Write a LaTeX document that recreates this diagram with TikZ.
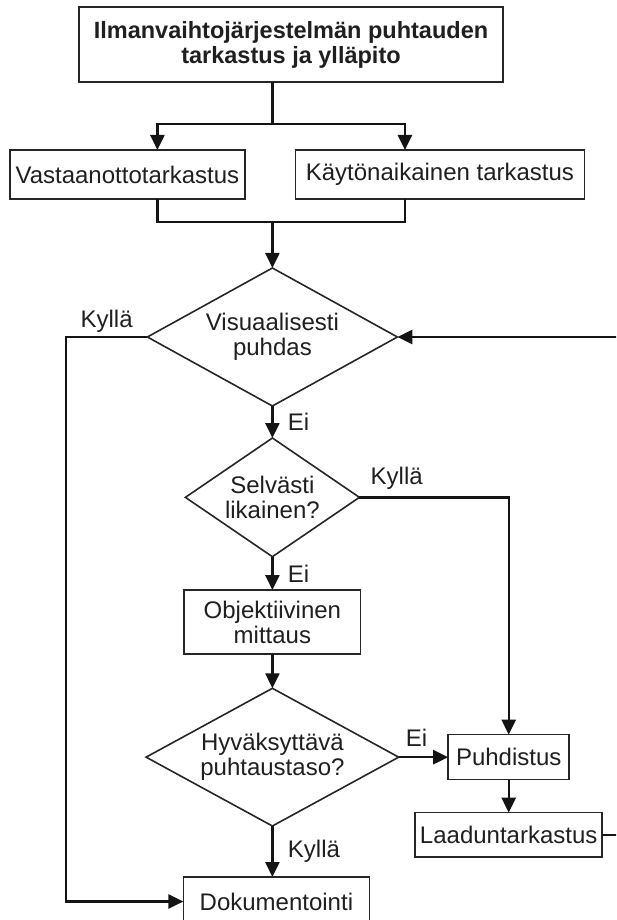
\documentclass[tikz,border=0pt]{standalone}
\usepackage{fontspec}
\setmainfont{Liberation Sans}
\usetikzlibrary{shapes.geometric,positioning,arrows.meta}
\newcommand{\chartfont}{\fontsize{24}{25}\selectfont}

\begin{document}
\begin{tikzpicture}[x=1pt,y=-1pt,font=\chartfont,text=black!88]
\tikzstyle{rect}=[rectangle, inner sep=0pt, outer sep=0pt, line width=1.6pt, draw=black!85]
\tikzstyle{decision}=[diamond, inner sep=0pt, outer sep=0pt, line width=1.6pt, draw=black!85]
\tikzstyle{connect}=[-{Triangle[length=15pt,width=14pt]}, line width=2.4pt, draw=black!92]
\tikzstyle{wire}=[line width=2.4pt, draw=black!92]
\tikzstyle{every label}=[align=center]
  \useasboundingbox (0,0) rectangle (616,920);
  \clip (0,0) rectangle (616,920);
  \node[rect, minimum width=424pt, minimum height=75pt] (title) at (291,44.5) [label={[font=\fontsize{23.5}{25}\selectfont\bfseries]center:Ilmanvaihtojärjestelmän puhtauden\\tarkastus ja ylläpito}] {};
  \node[rect, minimum width=235pt, minimum height=49pt] (vasta) at (127.4,174.5) [label=center:Vastaanottotarkastus] {};
  \node[rect, minimum width=289.3pt, minimum height=49pt] (kayton) [right=50.4pt of vasta, label=center:Käytönaikainen tarkastus] {};
  \node[decision, minimum width=250pt, minimum height=138pt] (vis) at (272.4,337) [label={center:Visuaalisesti\\puhdas}] {};
  \node[decision, minimum width=174pt, minimum height=118.7pt] (selv) [below=32pt of vis, label={center:Selvästi\\likainen?}] {};
  \node[rect, minimum width=176.3pt, minimum height=64pt] (obj) [below=33.3pt of selv, label={center:Objektiivinen\\mittaus}] {};
  \node[decision, minimum width=252.6pt, minimum height=137.7pt] (hyv) [below=34.3pt of obj, label={center:Hyväksyttävä\\puhtaustaso?}] {};
  \node[rect, minimum width=186pt, minimum height=49pt] (doku) [below=51pt of hyv, xshift=4pt, label=center:Dokumentointi] {};
  \node[rect, minimum width=121pt, minimum height=45pt] (puhd) [right=49.5pt of hyv, label=center:Puhdistus] {};
  \node[rect, minimum width=187pt, minimum height=44.3pt] (laad) [below=33pt of puhd, label=center:Laaduntarkastus] {};
  \coordinate (split) at (272.4,124);
  \coordinate (join) at (272.4,222);
  \draw[wire] (title.south -| split) -- (split);
  \draw[connect] (split) -| ([xshift=30pt]vasta.north);
  \draw[connect] (split) -| ([xshift=-35pt]kayton.north);
  \draw[wire] ([xshift=30pt]vasta.south) |- (join) -| ([xshift=-35pt]kayton.south);
  \path (join) edge [connect] (vis)
        (vis) edge [connect] node[right, xshift=11pt] {Ei} (selv)
        (selv) edge [connect] node[right, xshift=11pt] {Ei} (obj)
        (obj) edge [connect] (hyv)
        (hyv) edge [connect] node[above, pos=0.36, yshift=6pt] {Ei} (puhd)
        (puhd) edge [connect] (laad);
  \draw[connect] (hyv.south) -- node[right, xshift=11pt] {Kyllä} (hyv.south |- doku.north);
  \draw[connect] (vis.west) -- node[above] {Kyllä} ++(-81.5,0) |- (doku.west);
  \draw[connect] (selv.east) -- node[above, pos=0.25, yshift=3pt] {Kyllä} (selv.east -| puhd.north) -- (puhd.north);
  % paluu kuvan oikean reunan ulkopuolelta
  \draw[connect] (laad.east) -- ++(40,0) |- (vis.east);
\end{tikzpicture}
\end{document}
